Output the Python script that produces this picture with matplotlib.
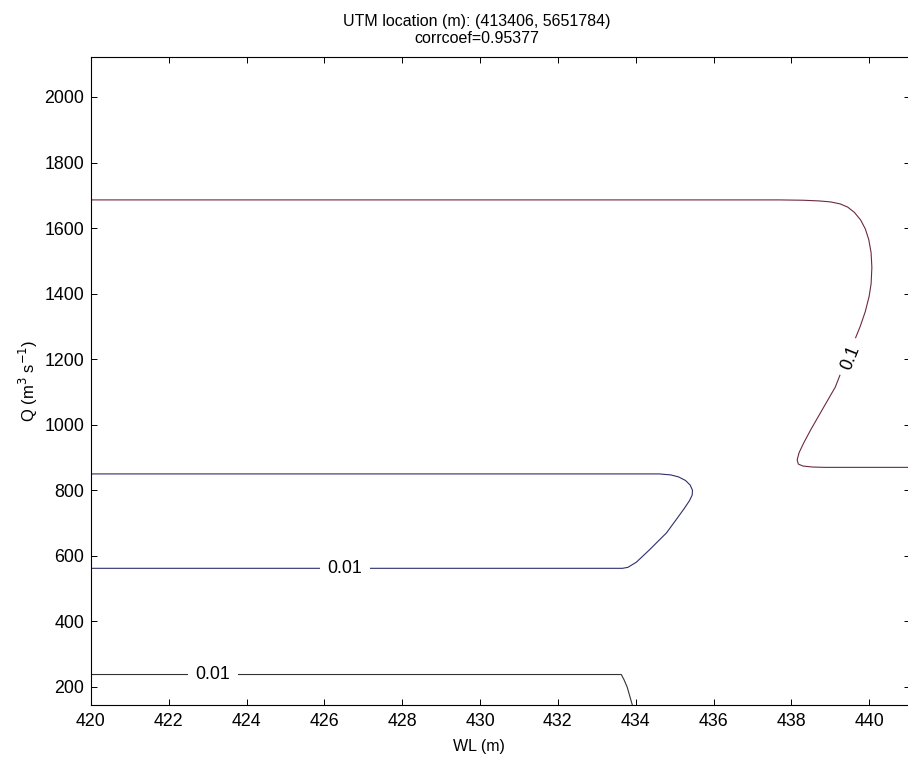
import matplotlib
matplotlib.use('Agg')
import matplotlib.pyplot as plt

plt.rcParams['font.family'] = ['Liberation Sans', 'DejaVu Sans']

# contour level 0.1 (upper)
wl_01 = [420.0, 437.69, 438.30, 438.70, 439.00, 439.25, 439.45, 439.62, 439.78, 439.90,
         439.99, 440.05, 440.07, 440.05, 440.00, 439.90, 439.77, 439.64, 439.46, 439.13,
         438.79, 438.50, 438.32, 438.20, 438.15, 438.18, 438.30, 438.55, 438.85, 441.1]
q_01 = [1686, 1686, 1685, 1683, 1680, 1674, 1664, 1648, 1625, 1598,
        1565, 1525, 1480, 1430, 1392, 1345, 1300, 1262, 1215, 1115,
        1045, 985, 945, 915, 893, 880, 874, 871, 870, 870]

# contour level 0.01 (middle loop)
wl_mid = [420.0, 434.61, 434.90, 435.10, 435.28, 435.40, 435.46, 435.45, 435.38, 435.25,
          435.05, 434.79, 434.35, 434.02, 433.80, 433.66, 420.0]
q_mid = [850, 850, 847, 841, 830, 816, 800, 785, 768, 745,
         712, 670, 618, 581, 565, 562, 562]

# contour level 0.01 (bottom)
wl_low = [420.0, 433.63, 433.70, 433.78, 433.95]
q_low = [238, 238, 222, 200, 130]

# label positions (WL, Q, text, rotation)
labels_wl = [439.52, 426.52, 423.13]
labels_q = [1205, 562, 238]
labels_txt = ['0.1', '0.01', '0.01']
labels_rot = [68, 0, 0]

fig = plt.figure(figsize=(9.08, 7.61), dpi=100)
ax = fig.add_axes([91 / 908, 1 - 705 / 761, 819 / 908, (705 - 57) / 761])

ax.plot(wl_01, q_01, color='#6e2a3c', lw=0.8)
ax.plot(wl_mid, q_mid, color='#2e2e6e', lw=0.8)
ax.plot(wl_low, q_low, color='#333333', lw=0.8)

for x, y, t, r in zip(labels_wl, labels_q, labels_txt, labels_rot):
    ax.text(x, y, t, rotation=r, ha='center', va='center', fontsize=12.8,
            rotation_mode='anchor',
            bbox=dict(boxstyle='square,pad=0.42', facecolor='white', edgecolor='none'))

ax.set_xlim(420, 441.05)
ax.set_ylim(145, 2122)
ax.set_xticks(range(420, 442, 2))
ax.set_yticks(range(200, 2001, 200))
ax.tick_params(direction='in', top=True, right=True, length=4.5, width=0.7,
               labelsize=12.8)
ax.tick_params(axis='x', pad=6)
ax.tick_params(axis='y', pad=5)
for s in ax.spines.values():
    s.set_linewidth(0.8)

ax.set_xlabel('WL (m)', fontsize=11.5)
ax.xaxis.set_label_coords(0.474, -0.052)
ax.set_ylabel('Q (m$^3$ s$^{-1}$)', fontsize=12)
ax.yaxis.set_label_coords(-0.062, 0.5)
ax.set_title('UTM location (m): (413406, 5651784)\ncorrcoef=0.95377',
             fontsize=11.5, x=0.471, pad=10, linespacing=1.2)

plt.savefig('out.png', dpi=100, facecolor='white')
plt.close(fig)
